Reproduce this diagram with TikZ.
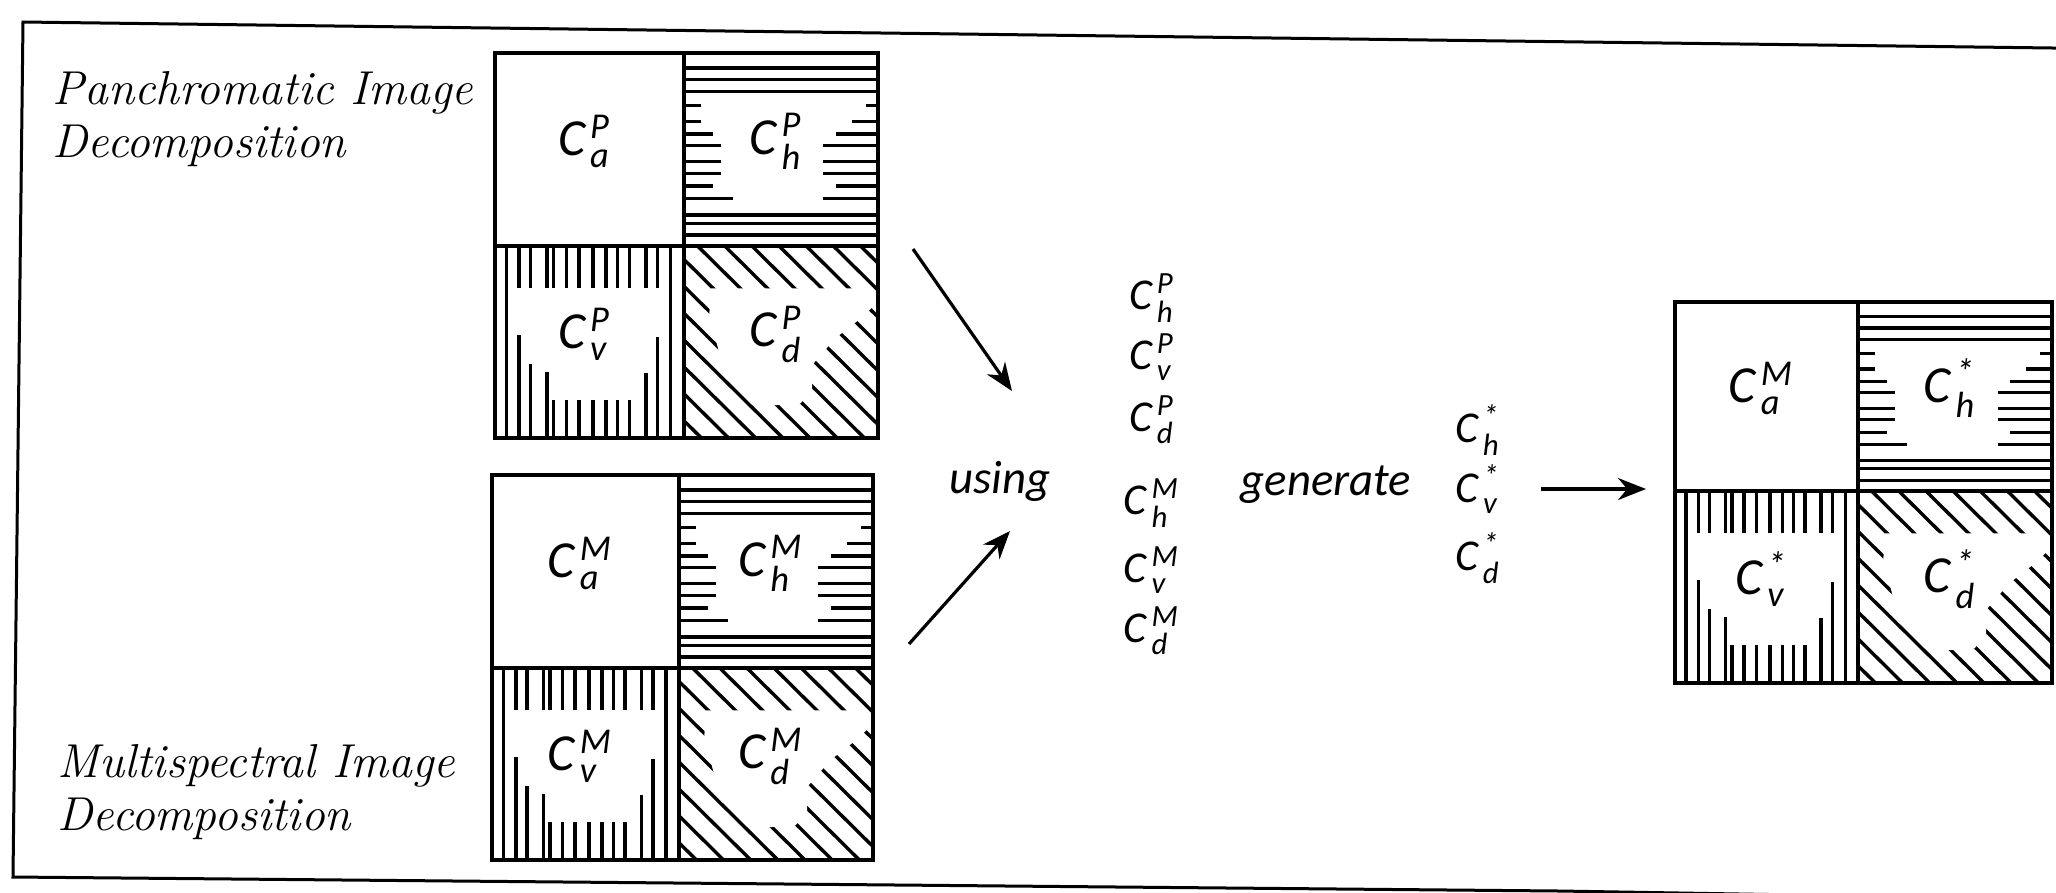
\documentclass[tikz,border=0pt]{standalone}
\usepackage{amsmath}
\usepackage{fontspec}
\newfontfamily\cfont{Carlito}
\usetikzlibrary{arrows.meta}

% coefficient symbol: C with stacked sub- and superscript
\newcommand\coefsym[2]{C\kern1.2pt$_{\text{#1}}^{\text{#2}}$}

% horizontal hatching of one quadrant (x0,y0,x1,y1 in px, y downwards)
\newcommand\hatchH[4]{%
  \pgfmathsetmacro\qw{(#3-(#1))*0.25}%
  \pgfmathsetmacro\qh{(#4-(#2))*0.25}%
  \begin{scope}[shift={(#1,#2)},x=\qw pt,y=-\qh pt]
    \foreach \v in {0.078,0.138,0.199,0.839,0.882,0.943}
      \draw[hatch] (0,\v) -- (1,\v);
    \foreach \v/\l/\r in {0.273/0.088/0.939,0.355/0.088/0.868,0.419/0.149/0.781,
                         0.479/0.193/0.719,0.562/0.193/0.719,0.623/0.193/0.719,
                         0.689/0.149/0.781,0.753/0.254/0.719}
      \draw[hatch] (0,\v) -- (\l,\v) (\r,\v) -- (1,\v);
  \end{scope}}

% vertical hatching of one quadrant
\newcommand\hatchV[4]{%
  \pgfmathsetmacro\qw{(#3-(#1))*0.25}%
  \pgfmathsetmacro\qh{(#4-(#2))*0.25}%
  \begin{scope}[shift={(#1,#2)},x=\qw pt,y=-\qh pt]
    \foreach \u in {0.061,0.930}
      \draw[hatch] (\u,0) -- (\u,1);
    \foreach \u/\b in {0.128/0.465,0.188/0.614,0.275/0.654,0.311/0.804,0.377/0.804,
                      0.444/0.804,0.518/0.804,0.588/0.804,0.649/0.804,0.711/0.804,
                      0.798/0.663,0.860/0.474}
      \draw[hatch] (\u,0) -- (\u,0.219) (\u,\b) -- (\u,1);
  \end{scope}}

% diagonal hatching of one quadrant
\newcommand\hatchD[4]{%
  \pgfmathsetmacro\qw{(#3-(#1))*0.25}%
  \pgfmathsetmacro\qh{(#4-(#2))*0.25}%
  \begin{scope}[shift={(#1,#2)},x=\qw pt,y=-\qh pt]
    \begin{scope}
      \clip (0,0) rectangle (1,1);
      \foreach \c in {-0.91,-0.77,-0.63,-0.49,-0.35,-0.21,-0.07,0.07,0.21,0.35,0.49,0.63,0.77,0.91}
        \draw[hatch] (\c,0) -- ({\c+1},1);
    \end{scope}
    \fill[white] (0.14,0.22) -- (0.96,0.22) -- (0.99,0.30) -- (0.92,0.37) -- (0.78,0.48)
      -- (0.66,0.62) -- (0.66,0.75) -- (0.60,0.82) -- (0.45,0.83) -- (0.18,0.55)
      -- (0.13,0.36) -- cycle;
  \end{scope}}

% four-quadrant decomposition block: name, x0, y0, xmid, ymid, x1, y1
\newcommand\decbox[7]{%
  \hatchH{#4}{#3}{#6}{#5}%
  \hatchV{#2}{#5}{#4}{#7}%
  \hatchD{#4}{#5}{#6}{#7}%
  \pgfmathsetmacro\bw{(#6-(#2))*0.25}%
  \pgfmathsetmacro\bh{(#7-(#3))*0.25}%
  \node[box,minimum width=\bw pt,minimum height=\bh pt,anchor=north west] (#1) at (#2,#3) {};
  \draw[boxline] (#4,#3) -- (#4,#7) (#2,#5) -- (#6,#5);}

\begin{document}
\begin{tikzpicture}[x=0.25pt,y=-0.25pt,
  frame/.style={line width=0.75pt},
  box/.style={draw,line width=1.1pt,inner sep=0pt,outer sep=0pt},
  boxline/.style={line width=1.1pt},
  hatch/.style={line width=0.85pt},
  flow/.style={line width=0.8pt,-{Stealth[length=7pt,width=5.5pt]}},
  captext/.style={font=\fontsize{11.9}{13.4}\selectfont\itshape,align=left,anchor=west,inner sep=0pt},
  qlabel/.style={font=\cfont\itshape\fontsize{13}{15}\selectfont,inner sep=0pt},
  coef/.style={font=\cfont\itshape\fontsize{11}{13}\selectfont,inner sep=0pt},
  word/.style={font=\cfont\itshape\fontsize{11.7}{14}\selectfont,inner sep=0pt}]
\clip (0,0) rectangle (2056,892);
\fill[white] (0,0) rectangle (2056,892);

% outer frame
\draw[frame] (2100,48.6) -- (23,22) -- (13,877) -- (1560,891) -- (2100,900);

% captions
\node[captext] (capP) at (52,119) {Panchromatic Image\\Decomposition};
\node[captext] (capM) at (57,792) {Multispectral Image\\Decomposition};

% panchromatic decomposition
\decbox{P}{495}{53}{684}{246}{878}{438}
\node[qlabel] (qPa) at (584.5,141.5) {\coefsym{a}{P}};
\node[qlabel] (qPh) at (776,141.5) {\coefsym{h}{P}};
\node[qlabel] (qPv) at (584.5,334) {\coefsym{v}{P}};
\node[qlabel] (qPd) at (776,334) {\coefsym{d}{P}};

% multispectral decomposition
\decbox{M}{492}{475}{679}{668}{873}{860}
\node[qlabel] (qMa) at (580.5,563.5) {\coefsym{a}{M}};
\node[qlabel] (qMh) at (771,563.5) {\coefsym{h}{M}};
\node[qlabel] (qMv) at (580.5,756) {\coefsym{v}{M}};
\node[qlabel] (qMd) at (771,756) {\coefsym{d}{M}};

% fused decomposition
\decbox{R}{1675}{302}{1858}{491}{2052}{683}
\node[qlabel] (qRa) at (1761.5,388.5) {\coefsym{a}{M}};
\node[qlabel] (qRh) at (1950,388.5) {\coefsym{h}{*}};
\node[qlabel] (qRv) at (1761.5,579) {\coefsym{v}{*}};
\node[qlabel] (qRd) at (1950,579) {\coefsym{d}{*}};

% detail coefficients used
\node[word] (using) at (1000,481) {using};
\node[coef] (cPh) at (1152,298) {\coefsym{h}{P}};
\node[coef] (cPv) at (1152,357) {\coefsym{v}{P}};
\node[coef] (cPd) at (1152,420) {\coefsym{d}{P}};
\node[coef] (cMh) at (1152,503) {\coefsym{h}{M}};
\node[coef] (cMv) at (1152,570) {\coefsym{v}{M}};
\node[coef] (cMd) at (1152,631) {\coefsym{d}{M}};

% generated coefficients
\node[word] (generate) at (1326,485) {generate};
\node[coef] (sH) at (1478,430) {\coefsym{h}{*}};
\node[coef] (sV) at (1478,489) {\coefsym{v}{*}};
\node[coef] (sD) at (1478,558) {\coefsym{d}{*}};

% arrows
\coordinate (pOut) at (913,249);
\coordinate (uIn1) at (1012,391);
\coordinate (mOut) at (909,644);
\coordinate (uIn2) at (1010,531);
\coordinate (gOut) at (1541,489);
\draw[flow] (pOut) -- (uIn1);
\draw[flow] (mOut) -- (uIn2);
\draw[flow,shorten >=7.25pt] (gOut) -- (R.west |- gOut);
\end{tikzpicture}
\end{document}
